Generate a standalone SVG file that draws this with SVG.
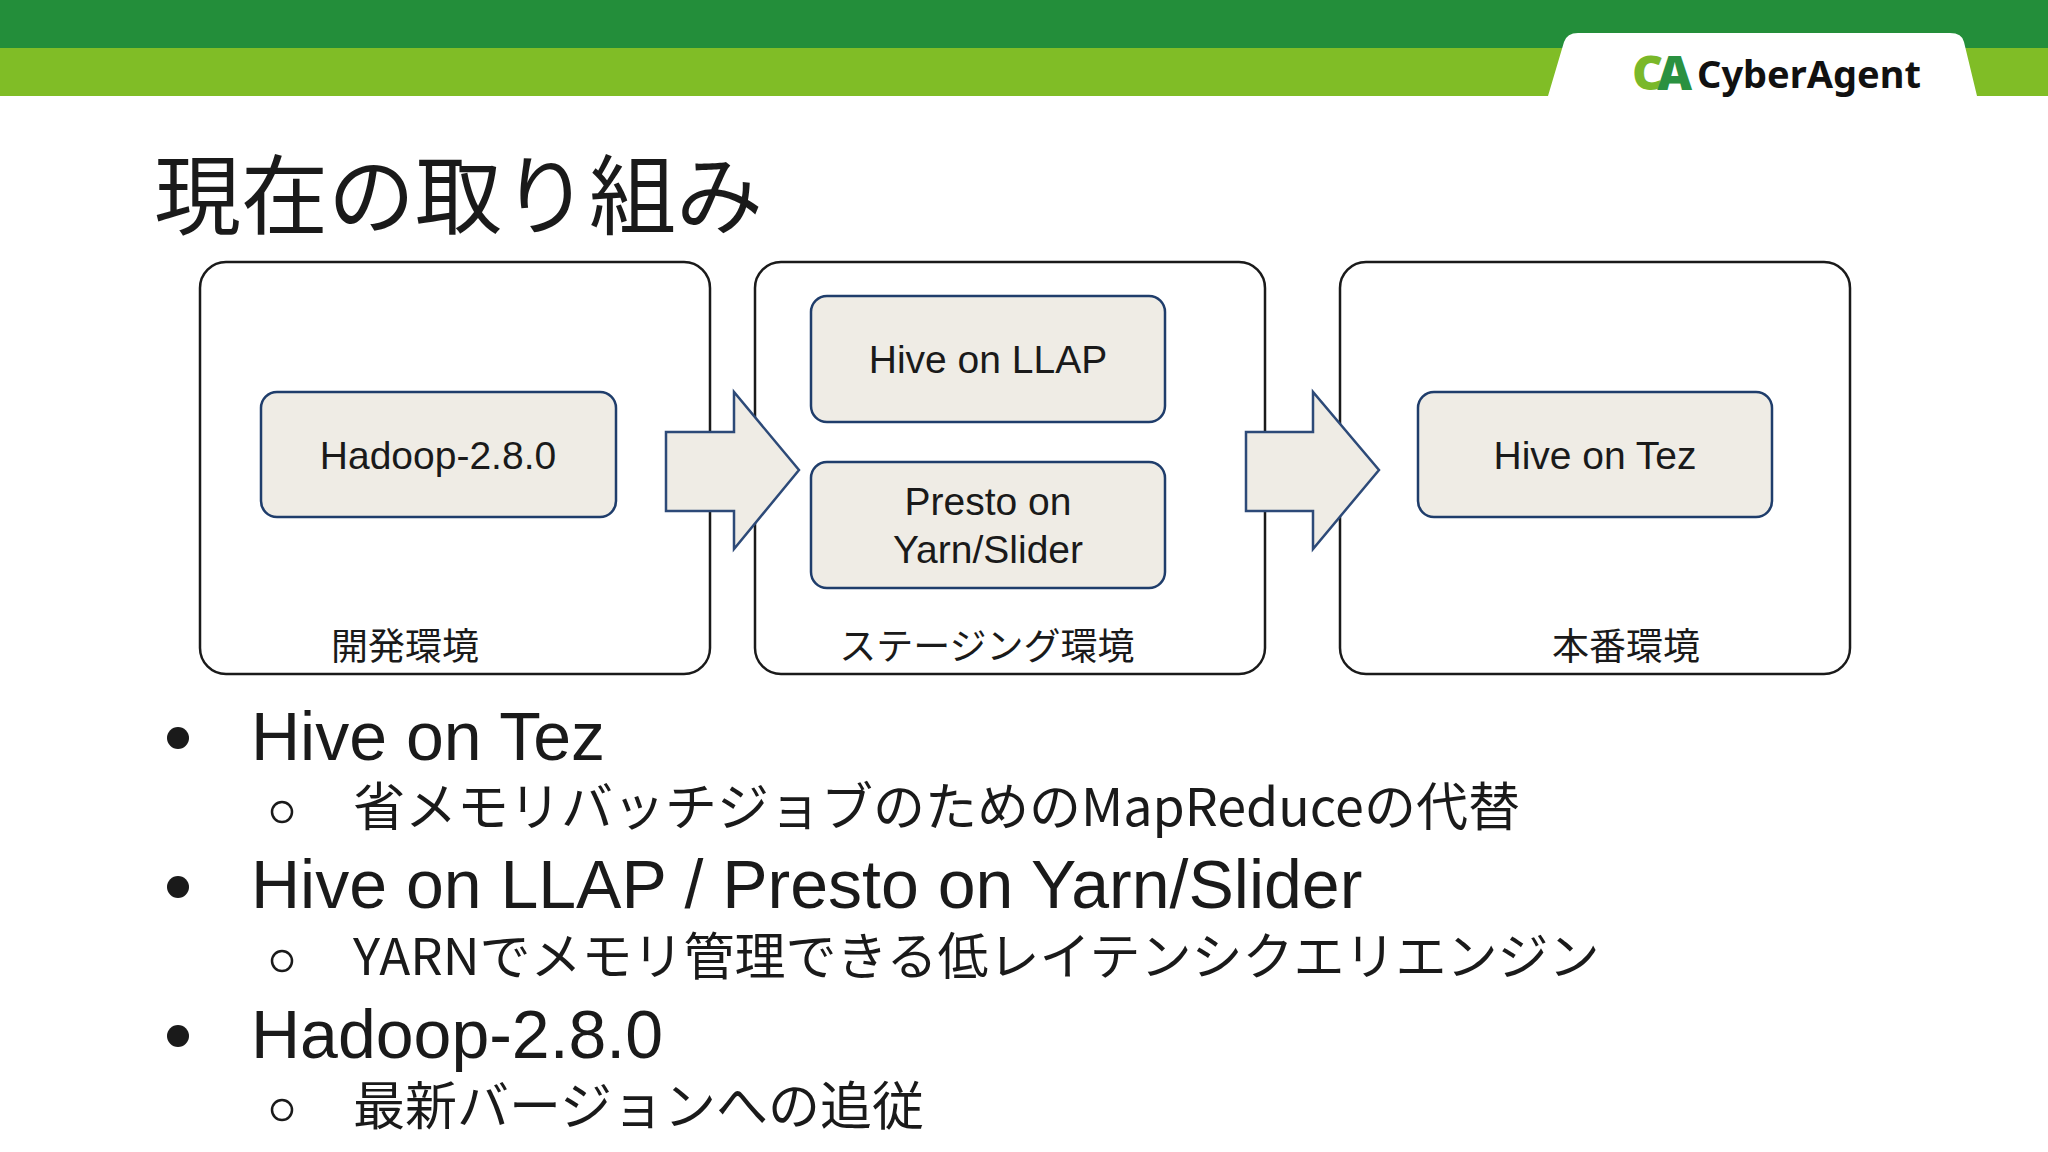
<svg xmlns="http://www.w3.org/2000/svg" width="2048" height="1152" viewBox="0 0 2048 1152">
<style>
.t{font-family:"Liberation Sans","Noto Sans CJK JP",sans-serif;fill:#1a1a1a}
.j{font-family:"Noto Sans CJK JP",sans-serif;fill:#1a1a1a}
.box{fill:#fff;stroke:#1a1a1a;stroke-width:2.5}
.in{fill:#efece5;stroke:#1f3d6b;stroke-width:2.5}
.arr{fill:#efece5;stroke:#2d4a78;stroke-width:2.5}
</style>
<rect width="2048" height="1152" fill="#fff"/>
<rect width="2048" height="48" fill="#238e3a"/>
<rect y="48" width="2048" height="48" fill="#80bd26"/>
<path d="M1548 96 L1564 42 Q1567 33 1578 33 L1950 33 Q1962 33 1964 42 L1977 96 Z" fill="#fff"/>
<g id="logo">
<text x="1632" y="90" font-family="Noto Sans,sans-serif" font-weight="900" font-size="48" letter-spacing="-6"><tspan fill="#7ab829">C</tspan><tspan fill="#2a9140">A</tspan></text>
<text x="1697" y="88" font-family="Noto Sans,sans-serif" font-weight="700" font-size="38" fill="#111">CyberAgent</text>
</g>
<text class="j" x="154" y="228" font-size="87">現在の取り組み</text>
<g id="dev"><rect class="box" x="200" y="262" width="510" height="412" rx="26"/><text class="j" x="405" y="660" font-size="37" text-anchor="middle">開発環境</text></g>
<g id="stg"><rect class="box" x="755" y="262" width="510" height="412" rx="26"/><text class="j" x="987" y="660" font-size="37" text-anchor="middle">ステージング環境</text></g>
<g id="prd"><rect class="box" x="1340" y="262" width="510" height="412" rx="26"/><text class="j" x="1626" y="660" font-size="37" text-anchor="middle">本番環境</text></g>
<g id="hadoop"><rect class="in" x="261" y="392" width="355" height="125" rx="16"/><text class="t" x="438" y="469" font-size="39" text-anchor="middle">Hadoop-2.8.0</text></g>
<g id="llap"><rect class="in" x="811" y="296" width="354" height="126" rx="16"/><text class="t" x="988" y="373" font-size="39" text-anchor="middle">Hive on LLAP</text></g>
<g id="presto"><rect class="in" x="811" y="462" width="354" height="126" rx="16"/><text class="t" x="988" y="515" font-size="39" text-anchor="middle">Presto on</text><text class="t" x="988" y="563" font-size="39" text-anchor="middle">Yarn/Slider</text></g>
<g id="tez"><rect class="in" x="1418" y="392" width="354" height="125" rx="16"/><text class="t" x="1595" y="469" font-size="39" text-anchor="middle">Hive on Tez</text></g>
<g id="connectors">
<path class="arr" d="M666 432 H734 V392 L799 470 L734 549 V511 H666 Z"/>
<path class="arr" d="M1246 432 H1313 V392 L1379 470 L1313 549 V511 H1246 Z"/>
</g>
<g font-size="68">
<circle cx="178" cy="738" r="11" fill="#1a1a1a"/>
<text class="t" x="251" y="760">Hive on Tez</text>
<circle cx="282" cy="812" r="10" fill="none" stroke="#1a1a1a" stroke-width="2.5"/>
<text class="j" x="353" y="826" font-size="52">省メモリバッチジョブのためのMapReduceの代替</text>
<circle cx="178" cy="887" r="11" fill="#1a1a1a"/>
<text class="t" x="251" y="908">Hive on LLAP / Presto on Yarn/Slider</text>
<circle cx="282" cy="961" r="10" fill="none" stroke="#1a1a1a" stroke-width="2.5"/>
<text class="j" x="353" y="975" font-size="51">YARNでメモリ管理できる低レイテンシクエリエンジン</text>
<circle cx="178" cy="1036" r="11" fill="#1a1a1a"/>
<text class="t" x="251" y="1058">Hadoop-2.8.0</text>
<circle cx="282" cy="1110" r="10" fill="none" stroke="#1a1a1a" stroke-width="2.5"/>
<text class="j" x="353" y="1125" font-size="52">最新バージョンへの追従</text>
</g>
</svg>
